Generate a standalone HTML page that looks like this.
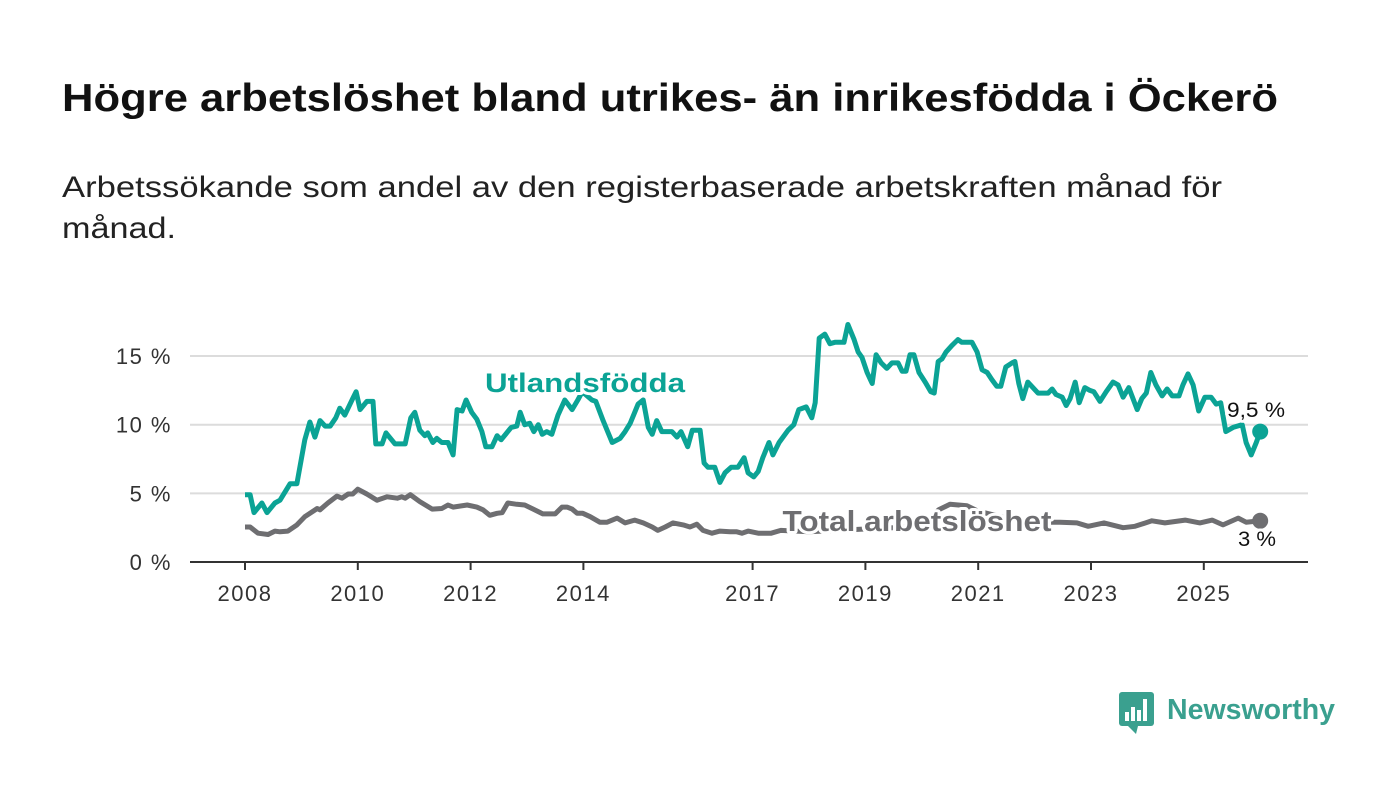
<!DOCTYPE html>
<html><head><meta charset="utf-8"><style>
body{margin:0;background:#fff;width:1400px;height:794px;overflow:hidden;font-family:"Liberation Sans",sans-serif}
svg{display:block}
</style></head><body>
<svg id="chart" width="1400" height="794">
<text x="62" y="111" font-size="39" font-weight="bold" fill="#111" textLength="1216" lengthAdjust="spacingAndGlyphs">Högre arbetslöshet bland utrikes- än inrikesfödda i Öckerö</text>
<text x="62" y="197" font-size="30" fill="#222" textLength="1160" lengthAdjust="spacingAndGlyphs">Arbetssökande som andel av den registerbaserade arbetskraften månad för</text>
<text x="62" y="238" font-size="30" fill="#222" textLength="114" lengthAdjust="spacingAndGlyphs">månad.</text>
<g id="grid"></g><g id="lines"></g><g id="labels"></g>
<g>
<rect x="1119" y="692" width="35" height="34" rx="3" fill="#3aa08f"/>
<path d="M1128 726 L1136 734 L1138 726 Z" fill="#3aa08f"/>
<rect x="1125" y="712" width="4" height="9" fill="#fff"/><rect x="1131" y="707" width="4" height="14" fill="#fff"/><rect x="1137" y="710" width="4" height="11" fill="#fff"/><rect x="1143" y="699" width="4" height="22" fill="#fff"/>
<text x="1167" y="719" font-size="29" font-weight="bold" fill="#3aa08f" textLength="168" lengthAdjust="spacingAndGlyphs">Newsworthy</text>
</g>
</svg>
<script>
const yTicks=[0,5,10,15];
const yTickLabels=["0 %","5 %","10 %","15 %"];
const xTicks=[2008,2010,2012,2014,2017,2019,2021,2023,2025];
const foreignYears=[2008,2008.09,2008.16,2008.30,2008.39,2008.53,2008.62,2008.80,2008.92,2009.06,2009.15,2009.24,2009.33,2009.42,2009.51,2009.61,2009.68,2009.77,2009.91,2009.97,2010.04,2010.16,2010.27,2010.32,2010.43,2010.50,2010.66,2010.84,2010.94,2011.01,2011.10,2011.19,2011.24,2011.33,2011.40,2011.49,2011.60,2011.69,2011.76,2011.85,2011.92,2012.02,2012.11,2012.20,2012.27,2012.38,2012.47,2012.54,2012.66,2012.72,2012.82,2012.88,2012.96,2013.05,2013.12,2013.20,2013.27,2013.35,2013.44,2013.55,2013.67,2013.80,2013.90,2013.98,2014.15,2014.22,2014.35,2014.44,2014.51,2014.65,2014.74,2014.83,2014.97,2015.06,2015.15,2015.22,2015.30,2015.39,2015.57,2015.66,2015.73,2015.85,2015.93,2016.07,2016.14,2016.21,2016.33,2016.42,2016.51,2016.62,2016.74,2016.85,2016.92,2017.02,2017.10,2017.18,2017.29,2017.36,2017.47,2017.63,2017.73,2017.82,2017.95,2018.05,2018.11,2018.18,2018.28,2018.37,2018.46,2018.62,2018.69,2018.80,2018.87,2018.94,2019.03,2019.12,2019.19,2019.28,2019.38,2019.47,2019.58,2019.65,2019.72,2019.79,2019.86,2019.95,2020.06,2020.16,2020.22,2020.29,2020.36,2020.43,2020.54,2020.64,2020.71,2020.80,2020.89,2020.98,2021.07,2021.16,2021.24,2021.33,2021.40,2021.49,2021.60,2021.65,2021.72,2021.79,2021.88,2021.97,2022.06,2022.24,2022.31,2022.38,2022.49,2022.56,2022.63,2022.72,2022.79,2022.89,2022.98,2023.05,2023.16,2023.27,2023.39,2023.48,2023.57,2023.67,2023.82,2023.90,2023.98,2024.06,2024.15,2024.26,2024.35,2024.44,2024.56,2024.63,2024.72,2024.81,2024.91,2025.02,2025.13,2025.22,2025.30,2025.39,2025.52,2025.68,2025.75,2025.84,2025.93,2026.0];
const foreignValues=[4.9,4.9,3.6,4.3,3.6,4.3,4.5,5.7,5.7,8.9,10.2,9.1,10.3,9.9,9.9,10.5,11.2,10.7,11.9,12.4,11.1,11.7,11.7,8.6,8.6,9.4,8.6,8.6,10.5,10.9,9.6,9.2,9.4,8.7,9.0,8.7,8.7,7.8,11.1,11.0,11.8,10.9,10.4,9.5,8.4,8.4,9.2,8.9,9.5,9.8,9.9,10.9,10.0,10.1,9.5,10.0,9.3,9.5,9.3,10.7,11.8,11.1,11.8,12.4,11.8,11.7,10.3,9.4,8.7,9.0,9.5,10.1,11.5,11.8,9.8,9.3,10.3,9.5,9.5,9.1,9.5,8.4,9.6,9.6,7.2,6.9,6.9,5.8,6.5,6.9,6.9,7.6,6.5,6.2,6.6,7.6,8.7,7.8,8.7,9.6,10.0,11.1,11.3,10.5,11.6,16.3,16.6,15.9,16.0,16.0,17.3,16.2,15.3,14.9,13.8,13.0,15.1,14.5,14.1,14.5,14.5,13.9,13.9,15.1,15.1,13.8,13.1,12.4,12.3,14.6,14.8,15.3,15.8,16.2,16.0,16.0,16.0,15.3,14.0,13.8,13.3,12.8,12.8,14.2,14.5,14.6,13.0,11.9,13.1,12.7,12.3,12.3,12.6,12.2,12.0,11.4,11.9,13.1,11.6,12.7,12.5,12.4,11.7,12.4,13.1,12.9,12.0,12.7,11.1,11.9,12.3,13.8,12.9,12.1,12.6,12.1,12.1,12.9,13.7,12.9,11.0,12.0,12.0,11.5,11.6,9.5,9.8,10.0,8.7,7.8,8.7,9.5];
const totalYears=[2008,2008.09,2008.23,2008.41,2008.53,2008.62,2008.76,2008.92,2009.06,2009.28,2009.33,2009.47,2009.63,2009.72,2009.83,2009.91,2010.00,2010.16,2010.34,2010.52,2010.70,2010.78,2010.84,2010.93,2011.10,2011.32,2011.49,2011.60,2011.69,2011.94,2012.11,2012.22,2012.34,2012.47,2012.56,2012.66,2012.82,2012.96,2013.11,2013.28,2013.41,2013.50,2013.62,2013.71,2013.80,2013.89,2013.99,2014.12,2014.29,2014.42,2014.60,2014.74,2014.91,2015.06,2015.22,2015.32,2015.45,2015.59,2015.77,2015.89,2016.01,2016.12,2016.28,2016.42,2016.60,2016.72,2016.81,2016.92,2017.10,2017.33,2017.50,2018.0,2018.5,2019.0,2019.5,2020.0,2020.3,2020.5,2020.8,2021.0,2021.5,2022.0,2022.45,2022.75,2022.95,2023.23,2023.57,2023.78,2024.08,2024.31,2024.67,2024.93,2025.15,2025.34,2025.61,2025.75,2026.0];
const totalValues=[2.55,2.55,2.1,2.0,2.25,2.2,2.25,2.7,3.3,3.9,3.8,4.3,4.8,4.65,4.95,4.95,5.3,4.95,4.5,4.75,4.65,4.75,4.65,4.9,4.4,3.85,3.9,4.15,4.0,4.15,4.0,3.8,3.4,3.55,3.6,4.3,4.2,4.15,3.85,3.5,3.5,3.5,4.0,4.0,3.85,3.55,3.55,3.3,2.9,2.9,3.2,2.85,3.05,2.85,2.55,2.3,2.55,2.85,2.7,2.55,2.75,2.3,2.1,2.25,2.2,2.2,2.1,2.25,2.1,2.1,2.3,2.2,2.3,2.4,2.5,2.6,3.8,4.2,4.1,3.7,3.2,2.9,2.9,2.85,2.6,2.85,2.5,2.6,3.0,2.85,3.05,2.85,3.05,2.7,3.2,2.9,3.0];
const NS='http://www.w3.org/2000/svg';
const x=t=>245+(t-2008)*56.4;
const y=v=>562-v*13.73;
function mk(tag,attrs,parent){const e=document.createElementNS(NS,tag);for(const k in attrs)e.setAttribute(k,attrs[k]);parent.appendChild(e);return e;}
const grid=document.getElementById('grid'),lines=document.getElementById('lines'),labels=document.getElementById('labels');
yTicks.forEach((v,i)=>{
 if(v>0){const g=mk('line',{x1:190,x2:1308,y1:y(v),y2:y(v),stroke:'#dcdcdc','stroke-width':2},grid);
 
 }
 const t=mk('text',{x:172,y:y(v)+8,'font-size':22,fill:'#333','text-anchor':'end','letter-spacing':1.5},grid);t.textContent=yTickLabels[i];
 
 
});
const ax=mk('line',{x1:190,x2:1308,y1:562,y2:562,stroke:'#333','stroke-width':2},grid);


xTicks.forEach(yr=>{
 mk('line',{x1:x(yr),x2:x(yr),y1:562,y2:570,stroke:'#333','stroke-width':2},grid);
 const t=mk('text',{x:x(yr),y:601,'font-size':22,fill:'#333','text-anchor':'middle','letter-spacing':1.5},grid);t.textContent=yr;
 
 
});
function path(xs,vs){const n=Math.min(xs.length,vs.length);let d='';for(let i=0;i<n;i++)d+=(i?'L':'M')+x(xs[i]).toFixed(1)+' '+y(vs[i]).toFixed(1);return d;}
const pT=mk('path',{d:path(totalYears,totalValues),fill:'none',stroke:'#6e6e71','stroke-width':5,'stroke-linejoin':'round'},lines);


const pF=mk('path',{d:path(foreignYears,foreignValues),fill:'none',stroke:'#0ba395','stroke-width':5,'stroke-linejoin':'round'},lines);


const lf=Math.min(foreignYears.length,foreignValues.length)-1,lt=Math.min(totalYears.length,totalValues.length)-1;
const dF=mk('circle',{cx:x(foreignYears[lf]),cy:y(foreignValues[lf]),r:8,fill:'#0ba395'},lines);


const dT=mk('circle',{cx:x(totalYears[lt]),cy:y(totalValues[lt]),r:8,fill:'#6e6e71'},lines);


function lab(txt,xx,yy,size,fill,bold,anchor,len,name){const t=mk('text',{x:xx,y:yy,'font-size':size,fill:fill,'font-weight':bold?'bold':'normal','text-anchor':anchor,stroke:'#fff','stroke-width':6,'paint-order':'stroke','stroke-linejoin':'round',textLength:len,lengthAdjust:'spacingAndGlyphs'},labels);t.textContent=txt;
 
 }
lab('Utlandsfödda',585,392,27,'#0ba395',true,'middle',200,'foreign-born-label');
lab('Total arbetslöshet',917,531,29,'#6e6e71',true,'middle',269,'total-label');
lab('9,5 %',1256,417,21,'#111',false,'middle',58,'foreign-born-end-value');
lab('3 %',1257,546,21,'#111',false,'middle',38,'total-end-value');
</script>
</body></html>
